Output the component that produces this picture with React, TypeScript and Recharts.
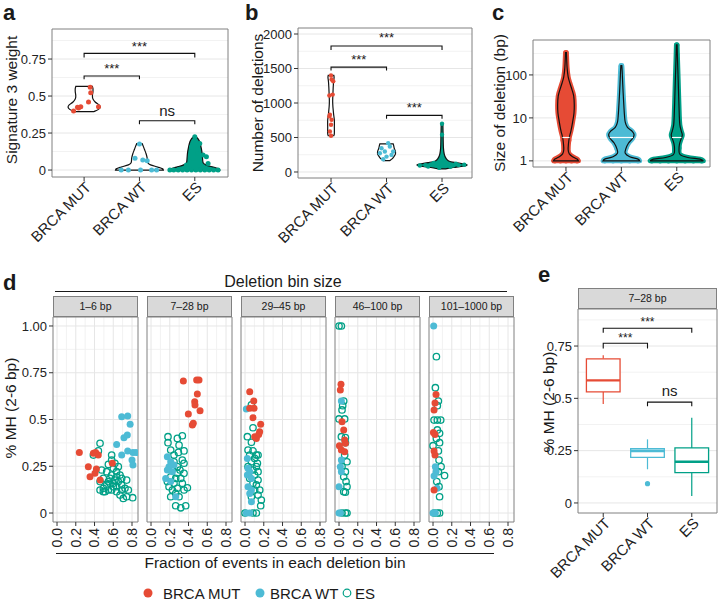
import React from 'react';
import { ScatterChart, Scatter, XAxis, YAxis, CartesianGrid, ReferenceArea } from 'recharts';

const FONT = '"Liberation Sans", Arial, Helvetica, sans-serif';
const RED = '#E64B35';
const BLUE = '#4DBBD5';
const TEAL = '#00A087';
const INK = '#1a1a1a';
const TICK = '#333333';
const BORDER = '#808080';
const GRID = '#e6e6e6';
const GRID_MINOR = '#f2f2f2';

const groups = ['BRCA MUT', 'BRCA WT', 'ES'];

// ---- a: signature 3 weight (violin profiles are [y, half width]) ----
const sigMutProfile = [[0.395, 0.18], [0.41, 0.26], [0.425, 0.29], [0.44, 0.27], [0.46, 0.2], [0.48, 0.16], [0.5, 0.15], [0.53, 0.16], [0.55, 0.16], [0.565, 0.15]];
const sigWtProfile = [[0, 0.43], [0.008, 0.42], [0.02, 0.33], [0.035, 0.2], [0.05, 0.15], [0.08, 0.14], [0.11, 0.12], [0.14, 0.09], [0.16, 0.07], [0.178, 0.05]];
const sigEsProfile = [[0, 0.45], [0.008, 0.44], [0.02, 0.33], [0.035, 0.2], [0.05, 0.15], [0.08, 0.14], [0.12, 0.13], [0.16, 0.11], [0.19, 0.09], [0.21, 0.06], [0.222, 0.03]];
const sigMutPts = [[0.81, 0.399], [0.88, 0.424], [0.94, 0.428], [1.11, 0.559], [1.12, 0.523], [1.08, 0.459], [1.26, 0.428], [0.9, 0.42]];
const sigWtPts = [[1.67, 0], [1.8, 0], [1.92, 0.079], [2.0, 0.176], [2.06, 0.068], [2.14, 0.063], [2.22, 0], [2.31, 0], [2.02, 0]];
const sigEsPts = [[3.0, 0.225], [3.09, 0.18], [2.94, 0.155], [3.06, 0.113], [3.15, 0.102], [3.21, 0.09], [2.97, 0.079], [3.24, 0.045], [2.85, 0.034], [3.05, 0.14], [2.55, 0], [2.62, 0], [2.7, 0], [2.78, 0], [2.86, 0], [2.94, 0], [3.02, 0], [3.1, 0], [3.18, 0], [3.26, 0], [3.34, 0], [3.42, 0]];
const sigBrackets = [[1, 3, 0.788, 0.028], [1, 2, 0.635, 0.022], [2, 3, 0.333, 0.023]];
const sigLabels = [[2, 0.856, '***'], [1.5, 0.709, '***'], [2.5, 0.394, 'ns']];
const sigTicks = [0, 0.25, 0.5, 0.75];
const sigMinor = [0.125, 0.375, 0.625, 0.875];

// ---- b: number of deletions ----
const delMutProfile = [[525, 0.05], [560, 0.06], [650, 0.06], [750, 0.06], [850, 0.045], [1000, 0.03], [1150, 0.035], [1300, 0.045], [1370, 0.055], [1400, 0.05]];
const delWtProfile = [[165, 0.06], [190, 0.1], [220, 0.13], [260, 0.16], [300, 0.16], [340, 0.14], [380, 0.13], [408, 0.12]];
const delEsProfile = [[45, 0.06], [65, 0.2], [85, 0.38], [100, 0.45], [115, 0.4], [135, 0.25], [160, 0.12], [200, 0.07], [260, 0.04], [350, 0.025], [500, 0.02], [700, 0.015]];
const delMutPts = [[1.0, 1399], [1.04, 1316], [0.97, 1108], [0.98, 831], [1.01, 758], [1.0, 685], [0.98, 588], [1.0, 525], [1.01, 1341], [0.97, 806], [1.03, 1122]];
const delWtPts = [[1.91, 345], [1.97, 296], [2.06, 369], [2.0, 223], [2.09, 248], [1.94, 185], [2.03, 418], [2.12, 296], [1.88, 272]];
const delEsPts = [[3.0, 700], [3.0, 539], [2.6, 95], [2.7, 100], [2.8, 110], [2.9, 90], [3.0, 120], [3.1, 105], [3.2, 95], [3.3, 100], [3.4, 105], [2.95, 60], [3.05, 150], [3.0, 200], [2.85, 130], [3.15, 75], [3.25, 120], [2.75, 80]];
const delBrackets = [[1, 3, 1827, 59], [1, 2, 1520, 48], [2, 3, 821, 48]];
const delLabels = [[2, 1997, '***'], [1.5, 1681, '***'], [2.5, 977, '***']];
const delTicks = [0, 500, 1000, 1500, 2000];
const delMinor = [250, 750, 1250, 1750];

// ---- c: size of deletion (log) ----
const sizeMutProfile = [[1, 0.225], [1.1, 0.2], [1.25, 0.12], [1.45, 0.06], [1.8, 0.04], [2.5, 0.045], [3.5, 0.06], [5, 0.09], [8, 0.12], [13, 0.145], [20, 0.15], [32, 0.14], [45, 0.11], [65, 0.07], [90, 0.04], [150, 0.02], [330, 0.008]];
const sizeWtProfile = [[1, 0.33], [1.1, 0.3], [1.25, 0.15], [1.5, 0.07], [1.9, 0.08], [2.6, 0.13], [3.3, 0.2], [4, 0.23], [4.8, 0.2], [6, 0.11], [8, 0.07], [12, 0.055], [25, 0.04], [60, 0.025], [120, 0.015], [165, 0.008]];
const sizeEsProfile = [[1, 0.48], [1.1, 0.42], [1.2, 0.2], [1.4, 0.06], [1.8, 0.04], [2.5, 0.05], [3.3, 0.08], [4, 0.1], [5, 0.08], [7, 0.055], [12, 0.045], [30, 0.035], [80, 0.025], [200, 0.015], [500, 0.006]];
const sizeMutPts = [[0.8, 1], [0.9, 1], [1.0, 1], [1.1, 1], [1.2, 1], [0.97, 2], [1.03, 2], [0.95, 3], [1.05, 3], [1.0, 200], [1.0, 330]];
const sizeWtPts = [[1.7, 1], [1.85, 1], [2.0, 1], [2.15, 1], [2.3, 1], [1.92, 2], [2.08, 2], [1.9, 3], [2.1, 3], [2.0, 160]];
const sizeEsPts = [[2.55, 1], [2.7, 1], [2.85, 1], [3.0, 1], [3.15, 1], [3.3, 1], [3.45, 1], [2.96, 2], [3.04, 2], [2.92, 4], [3.08, 4], [3.0, 150], [3.0, 300], [3.0, 500]];
const sizeBandY = 3.5;
const sizeBandHalf = [0.065, 0.21, 0.085];
const sizeTicks = [1, 10, 100];
const sizeMinor = [3.16, 31.6, 316];

// ---- d: % MH vs fraction of events, one facet per deletion bin ----
const facetLabels = ['1–6 bp', '7–28 bp', '29–45 bp', '46–100 bp', '101–1000 bp'];
const f1Mut = [[0.238, 0.323], [0.388, 0.319], [0.412, 0.323], [0.44, 0.31], [0.334, 0.248], [0.42, 0.235], [0.405, 0.212], [0.352, 0.194], [0.46, 0.176], [0.59, 0.266]];
const f1Wt = [[0.69, 0.515], [0.754, 0.519], [0.78, 0.474], [0.714, 0.403], [0.75, 0.417], [0.636, 0.367], [0.69, 0.31], [0.754, 0.332], [0.81, 0.323], [0.843, 0.323], [0.8, 0.283], [0.81, 0.257]];
const f1Es = [[0.459, 0.373], [0.441, 0.332], [0.388, 0.31], [0.583, 0.31], [0.583, 0.283], [0.548, 0.26], [0.476, 0.23], [0.53, 0.221], [0.601, 0.239], [0.636, 0.221], [0.672, 0.203], [0.565, 0.185], [0.618, 0.176], [0.548, 0.168], [0.654, 0.168], [0.601, 0.159], [0.69, 0.15], [0.494, 0.132], [0.548, 0.123], [0.512, 0.114], [0.636, 0.114], [0.725, 0.132], [0.761, 0.123], [0.672, 0.096], [0.743, 0.087], [0.807, 0.082], [0.707, 0.078], [0.601, 0.141], [0.583, 0.203], [0.636, 0.194], [0.69, 0.185], [0.743, 0.176], [0.494, 0.185], [0.53, 0.15], [0.459, 0.168], [0.654, 0.248], [0.618, 0.266], [0.565, 0.159], [0.636, 0.141], [0.69, 0.123], [0.583, 0.123], [0.494, 0.114], [0.459, 0.123]];
const f2Mut = [[0.345, 0.706], [0.487, 0.711], [0.512, 0.711], [0.494, 0.636], [0.466, 0.595], [0.469, 0.577], [0.523, 0.547], [0.398, 0.529], [0.451, 0.48], [0.441, 0.471]];
const f2Wt = [[0.174, 0.301], [0.21, 0.274], [0.192, 0.248], [0.174, 0.23], [0.245, 0.257], [0.156, 0.185], [0.228, 0.221], [0.263, 0.087], [0.21, 0.168]];
const f2Es = [[0.181, 0.408], [0.281, 0.399], [0.334, 0.413], [0.181, 0.376], [0.299, 0.363], [0.21, 0.337], [0.292, 0.324], [0.352, 0.332], [0.245, 0.31], [0.334, 0.283], [0.352, 0.266], [0.281, 0.248], [0.228, 0.239], [0.281, 0.212], [0.352, 0.212], [0.21, 0.194], [0.263, 0.185], [0.317, 0.185], [0.174, 0.168], [0.245, 0.159], [0.334, 0.159], [0.388, 0.135], [0.281, 0.132], [0.228, 0.123], [0.352, 0.123], [0.21, 0.087], [0.299, 0.087], [0.263, 0.039], [0.317, 0.028], [0.37, 0.039], [0.245, 0.274], [0.309, 0.23], [0.192, 0.141], [0.263, 0.105]];
const f3Mut = [[0.05, 0.649], [0.093, 0.599], [0.05, 0.56], [0.096, 0.56], [0.085, 0.51], [0.167, 0.474], [0.156, 0.435], [0.103, 0.408], [0.121, 0.399], [0.146, 0.42]];
const f3Wt = [[0.014, 0.556], [0.025, 0.292], [0.032, 0.239], [0.05, 0.221], [0.025, 0.203], [0.068, 0.185], [0.032, 0.141], [0.068, 0.123], [0.05, 0.105], [0.068, 0.06], [0.014, 0], [0.05, 0]];
const f3Es = [[0.068, 0.578], [0.085, 0.456], [0.025, 0.408], [0.068, 0.378], [0.032, 0.337], [0.085, 0.332], [0.121, 0.31], [0.05, 0.31], [0.103, 0.292], [0.068, 0.274], [0.121, 0.248], [0.032, 0.248], [0.085, 0.23], [0.139, 0.221], [0.103, 0.203], [0.05, 0.185], [0.139, 0.176], [0.085, 0.159], [0.121, 0.15], [0.157, 0.123], [0.103, 0.123], [0.139, 0.096], [0.174, 0.069], [0.167, 0.039], [0.068, 0.087], [0.0, 0], [0.085, 0], [0.121, 0], [0.139, 0.31], [0.132, 0.266]];
const f4Mut = [[0.021, 0.688], [0.014, 0.658], [0.032, 0.488], [0.05, 0.444], [0.06, 0.39], [0.068, 0.373], [0.004, 0.36], [0.025, 0.337], [0.06, 0.328]];
const f4Wt = [[0.025, 0.599], [0.025, 0.283], [0.014, 0.248], [0.025, 0.221], [0, 0.141], [0, 0], [0.014, 0]];
const f4Es = [[0, 1], [0.025, 1], [0.05, 0.599], [0.039, 0.574], [0.032, 0.551], [0, 0.503], [0.06, 0.503], [0.025, 0.408], [0.068, 0.403], [0.068, 0.376], [0.085, 0.274], [0.068, 0.221], [0.05, 0.194], [0.075, 0.168], [0.085, 0.141], [0.068, 0.111], [0.05, 0.114], [0.032, 0], [0.068, 0], [0.085, 0], [0.032, 0.248], [0.06, 0.31]];
const f5Mut = [[0.032, 0.634], [0.021, 0.588], [0.011, 0.551], [0.004, 0.431], [0.021, 0.42], [0.011, 0.332], [0.021, 0.31], [0.011, 0.123]];
const f5Wt = [[0.007, 1], [0.025, 0.248], [0.032, 0.221], [0.011, 0.198], [0.043, 0.132], [0, 0], [0.025, 0]];
const f5Es = [[0.036, 0.836], [0.025, 0.67], [0.057, 0.599], [0.046, 0.574], [0.011, 0.497], [0.046, 0.497], [0.082, 0.497], [0.046, 0.444], [0.07, 0.426], [0.036, 0.399], [0.07, 0.376], [0.057, 0.332], [0, 0.36], [0.064, 0.283], [0.086, 0.248], [0.057, 0.221], [0.123, 0.2], [0.04, 0.168], [0.064, 0.141], [0.07, 0.087], [0.011, 0], [0.046, 0], [0.07, 0]];
const fracTicks = [0, 0.2, 0.4, 0.6, 0.8];
const fracMinor = [0.1, 0.3, 0.5, 0.7];
const mhTicks = [0, 0.25, 0.5, 0.75, 1];
const mhMinor = [0.125, 0.375, 0.625, 0.875];

// ---- e: % MH boxplots for 7-28 bp ----
const boxLow = [0.473, 0.161, 0.033];
const boxQ1 = [0.531, 0.218, 0.145];
const boxMed = [0.586, 0.248, 0.197];
const boxQ3 = [0.689, 0.259, 0.263];
const boxHigh = [0.706, 0.304, 0.407];
const boxOutliers = [[2, 0.092]];
const boxBrackets = [[1, 3, 0.835, 0.022], [1, 2, 0.763, 0.025], [2, 3, 0.482, 0.02]];
const boxLabels = [[2, 0.878, '***'], [1.5, 0.805, '***'], [2.5, 0.531, 'ns']];
const groupColors = [RED, BLUE, TEAL];

// ---------- helpers ----------
type P = { x: number; y: number };
const toPts = (rows: number[][]): P[] => rows.map(([x, y]) => ({ x, y }));
const outline = (c: number, profile: number[][]): P[] => [
  ...profile.map(([y, w]) => ({ x: c + w, y })),
  ...[...profile].reverse().map(([y, w]) => ({ x: c - w, y })),
];
const bracketPts = (b: number[]): P[] => [
  { x: b[0], y: b[2] - b[3] },
  { x: b[0], y: b[2] },
  { x: b[1], y: b[2] },
  { x: b[1], y: b[2] - b[3] },
];
const labelPts = (rows: any[]) => rows.map(([x, y, label]) => ({ x, y, label }));

const spline = (p: P[]) => {
  let s = '';
  for (let i = 0; i < p.length - 1; i++) {
    const p0 = p[Math.max(i - 1, 0)];
    const p1 = p[i];
    const p2 = p[i + 1];
    const p3 = p[Math.min(i + 2, p.length - 1)];
    s += `C${p1.x + (p2.x - p0.x) / 6},${p1.y + (p2.y - p0.y) / 6} ${p2.x - (p3.x - p1.x) / 6},${p2.y - (p3.y - p1.y) / 6} ${p2.x},${p2.y}`;
  }
  return s;
};

const violinLine = (fill: string, halo?: string) => (props: any) => {
  const pts: P[] = props.points || [];
  if (pts.length < 4) return <g />;
  const n = pts.length / 2;
  const right = pts.slice(0, n);
  const left = pts.slice(n);
  const d = `M${right[0].x},${right[0].y}${spline(right)}L${left[0].x},${left[0].y}${spline(left)}Z`;
  return (
    <g>
      {halo && <path d={d} fill="none" stroke={halo} strokeWidth={5} strokeLinejoin="round" />}
      <path d={d} fill={fill} stroke="#111" strokeWidth={1.2} />
    </g>
  );
};

const polyLine = (stroke: string, width: number, fill = 'none', closed = false) => (props: any) => {
  const pts: P[] = props.points || [];
  if (!pts.length) return <g />;
  const d = pts.map((p, i) => `${i ? 'L' : 'M'}${p.x},${p.y}`).join('') + (closed ? 'Z' : '');
  return <path d={d} fill={fill} stroke={stroke} strokeWidth={width} />;
};

const hidden = () => <g />;
const dot = (fill: string, r: number) => (p: any) => <circle cx={p.cx} cy={p.cy} r={r} fill={fill} />;
const ring = (stroke: string, r: number) => (p: any) => (
  <circle cx={p.cx} cy={p.cy} r={r} fill="none" stroke={stroke} strokeWidth={1.3} />
);
const sigText = (starSize: number) => (p: any) => {
  const ns = p.payload.label === 'ns';
  return (
    <text x={p.cx} y={p.cy} dy={ns ? '0.3em' : '0.6em'} textAnchor="middle" fontSize={ns ? 15 : starSize} fill={INK} fontFamily={FONT}>
      {p.payload.label}
    </text>
  );
};

const tickStyle = { fontSize: 13, fill: '#222', fontFamily: FONT };

const AngledTick = (props: any) => {
  const { x, y, payload } = props;
  return (
    <text x={x} y={y} dy="0.62em" dx={2} textAnchor="end" transform={`rotate(-45 ${x} ${y})`} fontSize={15} fill="#222" fontFamily={FONT}>
      {groups[payload.value - 1]}
    </text>
  );
};

const VertTick = (props: any) => {
  const { x, y, payload } = props;
  return (
    <text x={x} y={y} dy="0.35em" textAnchor="end" transform={`rotate(-90 ${x} ${y})`} fontSize={14} fill="#222" fontFamily={FONT}>
      {Number(payload.value).toFixed(1)}
    </text>
  );
};

const line = (d: P[], fn: any, key?: string) => (
  <Scatter key={key} data={d} shape={hidden} line={fn} lineType="joint" isAnimationActive={false} />
);

function ViolinPanel(props: any) {
  const { width, height, margin, yWidth, xHeight, xDomain, yDomain, ticks, minor, scale, profiles, fills, halos, pts, dotR, brackets, labels, bandHalf } = props;
  return (
    <ScatterChart width={width} height={height} margin={margin}>
      <CartesianGrid horizontalValues={minor} vertical={false} stroke={GRID_MINOR} />
      <CartesianGrid horizontalValues={ticks} vertical={false} stroke={GRID} />
      <XAxis type="number" dataKey="x" domain={xDomain} ticks={[1, 2, 3]} allowDataOverflow interval={0} axisLine={false} tickLine={{ stroke: TICK }} tickSize={4} height={xHeight} tick={(p: any) => <AngledTick {...p} />} />
      <YAxis type="number" dataKey="y" scale={scale || 'linear'} domain={yDomain} ticks={ticks} allowDataOverflow interval={0} width={yWidth} axisLine={false} tickLine={{ stroke: TICK }} tickSize={4} tick={tickStyle} />
      <ReferenceArea x1={xDomain[0]} x2={xDomain[1]} y1={yDomain[0]} y2={yDomain[1]} fill="none" stroke={BORDER} strokeWidth={1} ifOverflow="visible" />
      {halos && pts.map((d: number[][], i: number) => (
        <Scatter key={`pp${i}`} data={toPts(d)} shape={dot(groupColors[i], dotR)} isAnimationActive={false} />
      ))}
      {profiles.map((pr: number[][], i: number) => line(outline(i + 1, pr), violinLine(fills[i], halos ? halos[i] : undefined), `v${i}`))}
      {bandHalf && bandHalf.map((w: number, i: number) => line([{ x: i + 1 - w, y: sizeBandY }, { x: i + 1 + w, y: sizeBandY }], polyLine('#ffffff', 1.2), `w${i}`))}
      {!halos && pts.map((d: number[][], i: number) => (
        <Scatter key={`p${i}`} data={toPts(d)} shape={dot(groupColors[i], dotR)} isAnimationActive={false} />
      ))}
      {brackets && brackets.map((b: number[], i: number) => line(bracketPts(b), polyLine('#111', 1.1), `b${i}`))}
      {labels && <Scatter data={labelPts(labels)} shape={sigText(13)} isAnimationActive={false} />}
    </ScatterChart>
  );
}

const facetData = [[f1Mut, f1Wt, f1Es], [f2Mut, f2Wt, f2Es], [f3Mut, f3Wt, f3Es], [f4Mut, f4Wt, f4Es], [f5Mut, f5Wt, f5Es]];
const facetLefts = [53, 147, 241, 335, 429];
const fracDomain = [-0.043, 0.864];
const mhDomain = [-0.048, 1.048];
const FACET_PAD = 10;

function Facet({ idx }: { idx: number }) {
  const [mut, wt, es] = facetData[idx];
  const first = idx === 0;
  return (
    <ScatterChart
      width={first ? 53 + 85 + FACET_PAD : 85 + 2 * FACET_PAD}
      height={240}
      margin={{ top: 2, right: FACET_PAD, bottom: 0, left: first ? 0 : FACET_PAD }}
    >
      <CartesianGrid horizontalValues={mhMinor} verticalValues={fracMinor} stroke={GRID_MINOR} />
      <CartesianGrid horizontalValues={mhTicks} verticalValues={fracTicks} stroke={GRID} />
      <XAxis type="number" dataKey="x" domain={fracDomain} ticks={fracTicks} allowDataOverflow interval={0} axisLine={false} tickLine={{ stroke: TICK }} tickSize={4} height={33} tick={(p: any) => <VertTick {...p} />} />
      <YAxis type="number" dataKey="y" domain={mhDomain} ticks={mhTicks} allowDataOverflow interval={0} hide={!first} width={53} axisLine={false} tickLine={{ stroke: TICK }} tickSize={4} tick={tickStyle} tickFormatter={(v: number) => (v === 1 ? '1.00' : String(v))} />
      <ReferenceArea x1={fracDomain[0]} x2={fracDomain[1]} y1={mhDomain[0]} y2={mhDomain[1]} fill="none" stroke={BORDER} ifOverflow="visible" />
      <Scatter data={toPts(es)} shape={ring(TEAL, 3.2)} isAnimationActive={false} />
      <Scatter data={toPts(wt)} shape={dot(BLUE, 3.5)} isAnimationActive={false} />
      <Scatter data={toPts(mut)} shape={dot(RED, 3.5)} isAnimationActive={false} />
    </ScatterChart>
  );
}

const boxDomainX = [0.43, 3.57];
const boxDomainY = [-0.048, 0.927];
const BW = 0.38;

function BoxPanel() {
  return (
    <ScatterChart width={180} height={294} margin={{ top: 2, right: 3, bottom: 0, left: 0 }}>
      <CartesianGrid horizontalValues={sigMinor} vertical={false} stroke={GRID_MINOR} />
      <CartesianGrid horizontalValues={sigTicks} vertical={false} stroke={GRID} />
      <XAxis type="number" dataKey="x" domain={boxDomainX} ticks={[1, 2, 3]} allowDataOverflow interval={0} axisLine={false} tickLine={{ stroke: TICK }} tickSize={4} height={88} tick={(p: any) => <AngledTick {...p} />} />
      <YAxis type="number" dataKey="y" domain={boxDomainY} ticks={sigTicks} allowDataOverflow interval={0} width={38} axisLine={false} tickLine={{ stroke: TICK }} tickSize={4} tick={tickStyle} />
      <ReferenceArea x1={boxDomainX[0]} x2={boxDomainX[1]} y1={boxDomainY[0]} y2={boxDomainY[1]} fill="none" stroke={BORDER} ifOverflow="visible" />
      {groups.map((g, i) => line([{ x: i + 1, y: boxQ3[i] }, { x: i + 1, y: boxHigh[i] }], polyLine(groupColors[i], 1.2), `wu${i}`))}
      {groups.map((g, i) => line([{ x: i + 1, y: boxQ1[i] }, { x: i + 1, y: boxLow[i] }], polyLine(groupColors[i], 1.2), `wl${i}`))}
      {groups.map((g, i) =>
        line(
          [
            { x: i + 1 - BW, y: boxQ1[i] },
            { x: i + 1 + BW, y: boxQ1[i] },
            { x: i + 1 + BW, y: boxQ3[i] },
            { x: i + 1 - BW, y: boxQ3[i] },
          ],
          polyLine(groupColors[i], 1.3, '#ffffff', true),
          `bx${i}`
        )
      )}
      {groups.map((g, i) => line([{ x: i + 1 - BW, y: boxMed[i] }, { x: i + 1 + BW, y: boxMed[i] }], polyLine(groupColors[i], 2.4), `md${i}`))}
      <Scatter data={toPts(boxOutliers)} shape={dot(BLUE, 2.6)} isAnimationActive={false} />
      {boxBrackets.map((b, i) => line(bracketPts(b), polyLine('#111', 1.1), `eb${i}`))}
      <Scatter data={labelPts(boxLabels)} shape={sigText(12)} isAnimationActive={false} />
    </ScatterChart>
  );
}

function Overlay() {
  const t = { fontFamily: FONT, fill: INK };
  const vTitle = (x: number, y: number, s: string) => (
    <text x={x} y={y} transform={`rotate(-90 ${x} ${y})`} textAnchor="middle" fontSize={15.5} {...t}>{s}</text>
  );
  return (
    <svg width={720} height={603} style={{ position: 'absolute', left: 0, top: 0 }}>
      <g fontWeight="bold" fontSize={22} {...t}>
        <text x={3} y={20} {...t}>a</text>
        <text x={245} y={20} {...t}>b</text>
        <text x={492} y={20} {...t}>c</text>
        <text x={3} y={290} {...t}>d</text>
        <text x={538} y={282} {...t}>e</text>
      </g>
      {vTitle(17, 100, 'Signature 3 weight')}
      {vTitle(263, 103, 'Number of deletions')}
      {vTitle(505, 103, 'Size of deletion (bp)')}
      {vTitle(16, 408, '% MH (2-6 bp)')}
      {vTitle(554, 402, '% MH (2-6 bp)')}
      <text x={283} y={287} textAnchor="middle" fontSize={16} {...t}>Deletion bin size</text>
      <line x1={55} x2={507} y1={291.5} y2={291.5} stroke={INK} strokeWidth={1.1} />
      {facetLabels.map((s, i) => (
        <g key={s}>
          <rect x={facetLefts[i] + 0.5} y={296.5} width={84} height={20} fill="#d9d9d9" stroke={BORDER} />
          <text x={facetLefts[i] + 42.5} y={310} textAnchor="middle" fontSize={10.5} {...t}>{s}</text>
        </g>
      ))}
      <rect x={578.5} y={288.5} width={138} height={20} fill="#d9d9d9" stroke={BORDER} />
      <text x={647.5} y={302} textAnchor="middle" fontSize={10.5} {...t}>{facetLabels[1]}</text>
      <line x1={56} x2={494} y1={553.5} y2={553.5} stroke={INK} strokeWidth={1.1} />
      <text x={275} y={568} textAnchor="middle" fontSize={15.5} {...t}>Fraction of events in each deletion bin</text>
      <circle cx={148} cy={593} r={4.5} fill={RED} />
      <text x={163} y={598.5} fontSize={15} {...t}>{groups[0]}</text>
      <circle cx={260} cy={593} r={4.5} fill={BLUE} />
      <text x={270} y={598.5} fontSize={15} {...t}>{groups[1]}</text>
      <circle cx={347} cy={593} r={3.8} fill="none" stroke={TEAL} strokeWidth={1.2} />
      <text x={355} y={598.5} fontSize={15} {...t}>{groups[2]}</text>
    </svg>
  );
}

export default function App() {
  return (
    <div style={{ position: 'absolute', left: 0, top: 0, width: 720, height: 603, background: '#fff', overflow: 'hidden', fontFamily: FONT }}>
      <Overlay />
      <div style={{ position: 'absolute', left: 0, top: 0 }}>
        <ViolinPanel
          width={240} height={262} margin={{ top: 29, right: 12, bottom: 0, left: 0 }} yWidth={52} xHeight={85}
          xDomain={[0.42, 3.6]} yDomain={[-0.047, 0.953]} ticks={sigTicks} minor={sigMinor}
          profiles={[sigMutProfile, sigWtProfile, sigEsProfile]} fills={['#ffffff', '#ffffff', TEAL]}
          pts={[sigMutPts, sigWtPts, sigEsPts]} dotR={2.5} brackets={sigBrackets} labels={sigLabels}
        />
      </div>
      <div style={{ position: 'absolute', left: 240, top: 0 }}>
        <ViolinPanel
          width={240} height={262} margin={{ top: 28, right: 8, bottom: 0, left: 0 }} yWidth={58} xHeight={84}
          xDomain={[0.405, 3.54]} yDomain={[-87, 2087]} ticks={delTicks} minor={delMinor}
          profiles={[delMutProfile, delWtProfile, delEsProfile]} fills={['#ffffff', '#ffffff', TEAL]}
          pts={[delMutPts, delWtPts, delEsPts]} dotR={2.2} brackets={delBrackets} labels={delLabels}
        />
      </div>
      <div style={{ position: 'absolute', left: 480, top: 0 }}>
        <ViolinPanel
          width={240} height={262} margin={{ top: 40, right: 10, bottom: 0, left: 0 }} yWidth={53} xHeight={95}
          xDomain={[0.405, 3.6]} yDomain={[0.72, 650]} ticks={sizeTicks} minor={sizeMinor} scale="log"
          profiles={[sizeMutProfile, sizeWtProfile, sizeEsProfile]} fills={groupColors} halos={groupColors}
          pts={[sizeMutPts, sizeWtPts, sizeEsPts]} dotR={2.6} bandHalf={sizeBandHalf}
        />
      </div>
      {facetLefts.map((l, i) => (
        <div key={i} style={{ position: 'absolute', left: i === 0 ? 0 : l - FACET_PAD, top: 315 }}>
          <Facet idx={i} />
        </div>
      ))}
      <div style={{ position: 'absolute', left: 540, top: 307 }}>
        <BoxPanel />
      </div>
    </div>
  );
}
